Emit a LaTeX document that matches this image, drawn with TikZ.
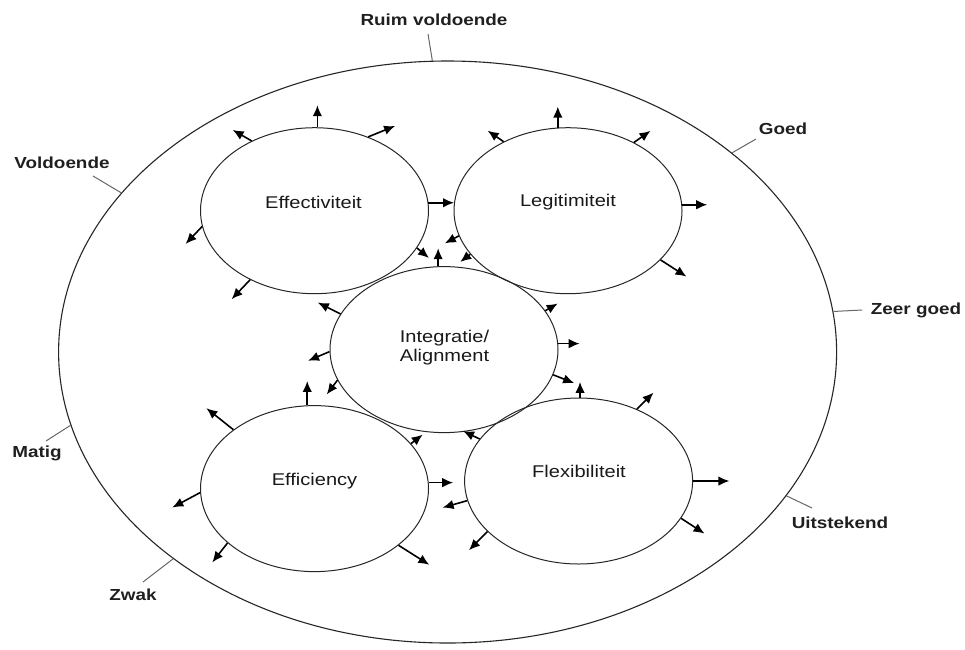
\documentclass[tikz,border=0pt]{standalone}
\usepackage{fontspec}
\usetikzlibrary{arrows.meta,shapes.geometric}
\newfontfamily\lab[FakeStretch=1.18]{Liberation Sans}
\begin{document}
\begin{tikzpicture}[x=1pt,y=-1pt,
  circ/.style={ellipse, draw=black!85, line width=1pt, inner sep=0pt, minimum width=228pt, minimum height=166pt},
  arr/.style={-{Latex[length=11pt,width=9.5pt]}, line width=1.6pt, black},
  tickline/.style={draw=black!60, line width=1pt},
  lbl/.style={font=\lab\bfseries\fontsize{16}{18}\selectfont, text=black!88, inner sep=0pt},
  txt/.style={font=\lab\fontsize{17}{19}\selectfont, text=black!90, inner sep=0pt, align=center}]
\useasboundingbox (0,0) rectangle (965,649);
% outer scale
\node[ellipse, draw=black!85, line width=1.1pt, inner sep=0pt, minimum width=778pt, minimum height=582pt] (outer) at (447.6,352) {};
% scale labels
\node[lbl] (l-ruim) at (434,20) {Ruim voldoende};
\node[lbl] (l-vold) at (62,163) {Voldoende};
\node[lbl] (l-goed) at (783,129) {Goed};
\node[lbl] (l-zeer) at (916,310) {Zeer goed};
\node[lbl] (l-matig) at (37,453) {Matig};
\node[lbl] (l-uit) at (840,523) {Uitstekend};
\node[lbl] (l-zwak) at (133,595) {Zwak};
\coordinate (t-ruim) at (428,34);
\coordinate (t-vold) at (93,176);
\coordinate (t-goed) at (756,139);
\coordinate (t-zeer) at (862,310);
\coordinate (t-matig) at (46,441);
\coordinate (t-uit) at (812,508);
\coordinate (t-zwak) at (143,582);
\draw[tickline] (t-ruim) -- (outer.93.9);
\draw[tickline] (t-vold) -- (outer.154);
\draw[tickline] (t-goed) -- (outer.35.5);
\draw[tickline] (t-zeer) -- (outer.6.2);
\draw[tickline] (t-matig) -- (outer.191.4);
\draw[tickline] (t-uit) -- (outer.337.6);
\draw[tickline] (t-zwak) -- (outer.217.2);
% inner circles
\node[circ] (eff) at (314.5,210.7) {};
\node[circ] (leg) at (568,210.7) {};
\node[circ] (int) at (444,349.6) {};
\node[circ] (effi) at (314.5,488.6) {};
\node[circ] (flex) at (578.6,481) {};
\node[txt] (eff-t) at (313.5,202) {Effectiviteit};
\node[txt] (leg-t) at (568,202) {Legitimiteit};
\node[txt] (int-t) at (444.5,347.5) {Integratie/\\Alignment};
\node[txt] (effi-t) at (314.5,481) {Efficiency};
\node[txt] (flex-t) at (579,471.6) {Flexibiliteit};
% arrows
\draw[arr] (eff.4) -- (leg.176);
\foreach \n/\a/\dx/\dy [count=\i] in {
  eff/88/0/-22, eff/132.4/-19/-11, eff/54.6/27/-11, eff/188.5/-16.5/17.5, eff/227.2/-18.5/19.5, eff/340.6/12/10,
  leg/97.7/0/-21, leg/133.6/-16/-11, leg/46.1/16.6/-11.6, leg/3.4/25/0, leg/332.4/26/16.7, leg/193.5/-14/7.4, leg/204.3/-10/7.7,
  int/94.6/0/-18, int/161.3/-22.6/-11.4, int/21.3/12.4/-7.2, int/3.8/21.5/0, int/181.5/-21.5/9.2, int/347.5/21/8.3, int/196.8/-10.7/14.3,
  effi/95.8/0/-24.3, effi/144.6/-27/-21.5, effi/3.8/24.5/0, effi/182.9/-27.8/14.9, effi/212.3/-15.3/19.5, effi/326.1/30.8/19.5, effi/25/11.7/-9,
  flex/89.4/0/-15.6, flex/51.4/16.7/-16.5, flex/0.4/36.3/0, flex/340.2/23.5/15.3, flex/190/-24.7/7, flex/209.7/-18.5/18.7, flex/157.1/-16.6/-8}
  {\draw[arr] (\n.\a) -- ++(\dx,\dy) coordinate (\n-o\i);}
\end{tikzpicture}
\end{document}
